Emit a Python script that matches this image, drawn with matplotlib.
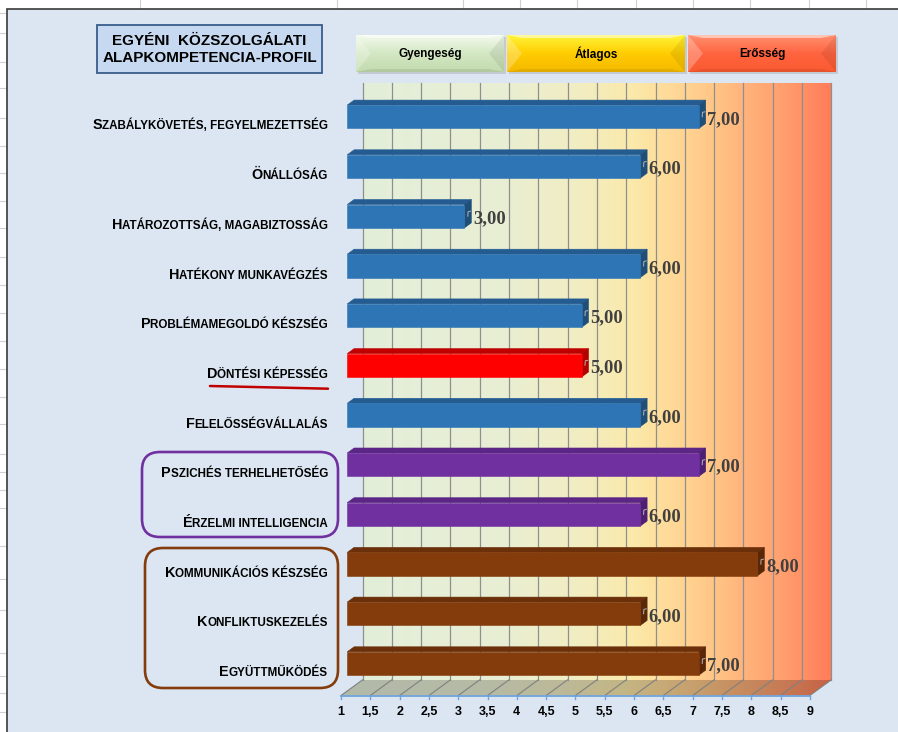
import matplotlib
matplotlib.use("Agg")
import matplotlib.pyplot as plt
import numpy as np
from matplotlib.colors import LinearSegmentedColormap, to_rgb
from matplotlib.patches import Polygon, Rectangle, FancyBboxPatch

# competence profile data
categories = ["Szabálykövetés, fegyelmezettség", "Önállóság", "Határozottság, magabiztosság",
              "Hatékony munkavégzés", "Problémamegoldó készség", "Döntési képesség",
              "Felelősségvállalás", "Pszichés terhelhetőség", "Érzelmi intelligencia",
              "Kommunikációs készség", "Konfliktuskezelés", "Együttműködés"]
scores = [7, 6, 3, 6, 5, 5, 6, 7, 6, 8, 6, 7]
groups = ["alap"] * 5 + ["dontes", "alap", "erzelmi", "erzelmi",
                         "kapcsolati", "kapcsolati", "kapcsolati"]
bands = ["Gyengeség", "Átlagos", "Erősség"]
ticks = np.arange(1, 9.01, 0.5)
tick_labels = [f"{t:g}".replace(".", ",") for t in ticks]

# front / top / side colours of the 3-D bars
bar_colors = {
    "alap": ("#2E75B6", "#245C92", "#1F4E79"),
    "dontes": ("#FF0000", "#C00000", "#B00000"),
    "erzelmi": ("#7030A0", "#5B2685", "#4E2073"),
    "kapcsolati": ("#843C0C", "#6B300A", "#5A2808"),
}

W, H = 898, 732
SANS = "Liberation Sans"
SERIF = "Liberation Serif"

fig = plt.figure(figsize=(W / 100, H / 100), dpi=100)
fig.patch.set_facecolor("white")
ax = fig.add_axes([0, 0, 1, 1])

# data units: x = score, y = category row (0 at top)
XPX, YPX = 58.6, 49.7
X0 = 1 - 341 / XPX
Y0 = -124 / YPX
ax.set_xlim(X0, X0 + W / XPX)
ax.set_ylim(Y0 + H / YPX, Y0)
ax.axis("off")

DX, DY = 21.5 / XPX, -15.7 / YPX      # full depth of the 3-D plot box
D_FRONT, D_BACK = 0.29, 0.61           # depth range occupied by bars
N = len(categories)
TOP, BOT = -0.5, N - 0.5


def P(x, y):
    """pixel position -> data coordinates (used for decorations)"""
    return X0 + x / XPX, Y0 + y / YPX


def poly(pts, **kw):
    return Polygon(pts, closed=True, transform=ax.transData, **kw)


def gradient(colors, x0, x1, y0, y1, clip, vertical=False, z=1):
    cmap = LinearSegmentedColormap.from_list("g", colors)
    arr = np.linspace(0, 1, 256)
    arr = arr[:, None] if vertical else arr[None, :]
    im = ax.imshow(arr, cmap=cmap, extent=[x0, x1, y1, y0], aspect="auto",
                   interpolation="bilinear", zorder=z)
    im.set_clip_path(clip)
    return im


# spreadsheet behind the chart object
for gx in [140, 337, 463, 520, 577, 636, 693, 750, 809, 866]:
    ax.plot(*zip(P(gx, 0), P(gx, 9)), color="#D0D0D0", lw=0.8, zorder=0)
for gy in [13, 33, 62, 88, 118, 146, 173, 201, 228, 257, 285, 313, 341, 369,
           397, 424, 454, 472, 490, 508, 546, 579, 610, 653, 676, 693, 712]:
    ax.plot(*zip(P(0, gy), P(7, gy)), color="#D0D0D0", lw=0.8, zorder=0)

cx, cy = P(7, 9)
ax.add_patch(Rectangle((cx, cy), 20, 20, facecolor="#DCE6F2",
                       edgecolor="#3A3A3A", lw=1.2, zorder=0.5))

# back wall with colour bands
wall = [(0.0, "#E3EEDA"), (0.3, "#E9EFD3"), (0.46, "#F2EDC2"), (0.58, "#FBE9A9"),
        (0.665, "#FFD896"), (0.74, "#FFC888"), (0.81, "#FFB47C"), (0.9, "#FF9E6E"),
        (1.0, "#FF7C58")]
wall_pts = [(1 + DX, TOP + DY), (9 + DX, TOP + DY), (9 + DX, BOT + DY), (1 + DX, BOT + DY)]
gradient(wall, 1 + DX, 9 + DX, TOP + DY, BOT + DY, poly(wall_pts), z=1)

# floor, a darker version of the wall colours
floor = [(s, tuple(0.78 * np.array(to_rgb(c)))) for s, c in wall]
floor_pts = [(1, BOT), (9, BOT), (9 + DX, BOT + DY), (1 + DX, BOT + DY)]
gradient(floor, 1, 9 + DX, BOT + DY, BOT, poly(floor_pts), z=1)

for t in ticks:
    ax.plot([t + DX, t + DX], [TOP + DY, BOT + DY], color="#8F8F8F", lw=0.9, zorder=2)
    ax.plot([t, t + DX], [BOT, BOT + DY], color="#808080", lw=0.8, zorder=2)

# value axis
ax.plot([1, 9], [BOT, BOT], color="#6FA3DB", lw=1.3, zorder=3)
for t, lab in zip(ticks, tick_labels):
    ax.plot([t, t], [BOT, BOT + 3 / YPX], color="#6FA3DB", lw=1.0, zorder=3)
    ax.text(t, BOT + 0.33, lab, ha="center", va="center", fontsize=9,
            fontweight="bold", family=SANS, color="#000000", zorder=4)

# 3-D bars
dd = D_BACK - D_FRONT
for i, (v, g) in enumerate(zip(scores, groups)):
    front, top, side = bar_colors[g]
    xl, xr = 1 + D_FRONT * DX, v + D_FRONT * DX
    yt, yb = i - 0.38, i + 0.09
    ox, oy = dd * DX, dd * DY
    ax.add_patch(poly([(xl, yt), (xr, yt), (xr + ox, yt + oy), (xl + ox, yt + oy)],
                      facecolor=top, edgecolor=top, lw=0.4, zorder=3))
    ax.add_patch(poly([(xr, yt), (xr + ox, yt + oy), (xr + ox, yb + oy), (xr, yb)],
                      facecolor=side, edgecolor=side, lw=0.4, zorder=3))
    ax.add_patch(poly([(xl, yt), (xr, yt), (xr, yb), (xl, yb)],
                      facecolor=front, edgecolor=front, lw=0.4, zorder=3))

    # data label with its small leader
    xs = xr + ox
    fc = (yt + yb) / 2
    ax.plot([xs - 0.06, xs - 0.055, xs - 0.015], [fc + 0.0, fc - 0.09, fc - 0.1],
            color="#B4B4B4", lw=0.7, zorder=4)
    ax.text(xs + 0.03, fc + 0.14, f"{v:.2f}".replace(".", ","), ha="left",
            va="baseline", fontsize=13.3, fontweight="bold", family=SERIF,
            color="#404040", zorder=4)

# category labels in small capitals
LABEL_X = 1 + (328 - 341) / XPX
for i, name in enumerate(categories):
    rest = ax.text(LABEL_X, i + 0.11, name[1:].upper(), ha="right", va="baseline",
                   fontsize=8.35, fontweight="bold", family=SANS, zorder=4)
    ax.annotate(name[0], xy=(0, i + 0.11), xycoords=(rest, "data"), ha="right",
                va="baseline", fontsize=10.4, fontweight="bold", family=SANS, zorder=4)

# underline of the highlighted competence
ax.plot(*zip(P(210, 386), P(328, 388.7)), color="#C00000", lw=1.8,
        solid_capstyle="round", zorder=4)

# group frames
for (x0, y0, x1, y1), col in [((142, 452, 338, 537), "#7030A0"),
                              ((145, 548, 338, 688), "#843C0C")]:
    a, b = P(x0, y0)
    c, d = P(x1, y1)
    ax.add_patch(FancyBboxPatch((a, b), c - a, d - b,
                                boxstyle=f"round,pad=0,rounding_size={18 / XPX}",
                                mutation_aspect=XPX / YPX, facecolor="none",
                                edgecolor=col, lw=1.9, zorder=4))

# title box
a, b = P(97, 25)
c, d = P(322, 73)
ax.add_patch(Rectangle((a, b), c - a, d - b, facecolor="#C6D9F1",
                       edgecolor="#385D8A", lw=1.3, zorder=4))
ax.text((a + c) / 2, (b + d) / 2 + 0.01, "EGYÉNI  KÖZSZOLGÁLATI\nALAPKOMPETENCIA-PROFIL",
        ha="center", va="center", fontsize=11, fontweight="bold", family=SANS,
        linespacing=1.35, zorder=5)

# band buttons above the wall
buttons = [((356, 35, 504, 72), ["#F4FAEE", "#D3E7C3", "#C2DBAE"]),
           ((507, 35, 685, 72), ["#FFF53A", "#FFCC00", "#F5B900"]),
           ((688, 35, 836, 72), ["#FF9070", "#FF6440", "#FA5A30"])]
for lab, ((x0, y0, x1, y1), cols) in zip(bands, buttons):
    a, b = P(x0, y0)
    c, d = P(x1, y1)
    sa, sb = P(x0 + 2, y0 + 2)
    ax.add_patch(Rectangle((sa, sb), c - a, d - b, facecolor="#A0A0A0",
                           alpha=0.4, lw=0, zorder=4))
    rect = poly([(a, b), (c, b), (c, d), (a, d)], facecolor="none", lw=0)
    gradient(cols, a, c, b, d, rect, vertical=True, z=4.2)
    bx, by = 15 / XPX, 3 / YPX
    mid = (b + d) / 2
    bevels = [([(a, b), (c, b), (c - bx, b + by), (a + bx, b + by)], "white", 0.5),
              ([(a, b), (a + bx, mid), (a, d)], "white", 0.25),
              ([(c, b), (c - bx, mid), (c, d)], "black", 0.07),
              ([(a, d), (a + bx, d - by), (c - bx, d - by), (c, d)], "black", 0.08)]
    for pts, col, al in bevels:
        ax.add_patch(poly(pts, facecolor=col, alpha=al, lw=0, zorder=4.5))
    ax.text((a + c) / 2, (b + d) / 2, lab, ha="center", va="center", fontsize=8.5,
            fontweight="bold", family=SANS, zorder=5)

fig.savefig("out.png", dpi=100)
